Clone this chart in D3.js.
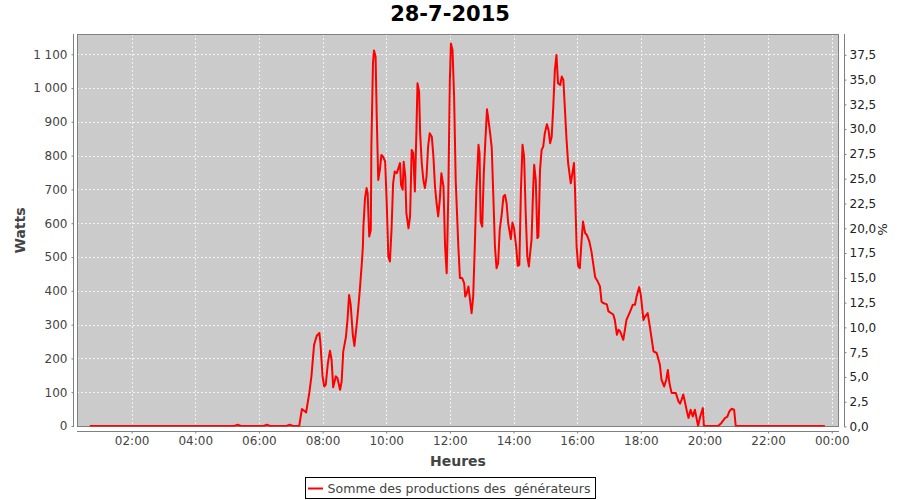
<!DOCTYPE html>
<html><head><meta charset="utf-8">
<script src="https://cdn.jsdelivr.net/npm/d3@7"></script>
<style>body{margin:0;background:#fff}svg{display:block}</style>
</head><body><svg id="c" width="900" height="500"></svg>
<script>
const chartTitle = "28-7-2015";
const xLabel = "Heures";
const yLabel = "Watts";
const y2Label = "%";
const seriesName = "Somme des productions des  générateurs";

const times = ["00:41","05:14","05:20","05:26","06:09","06:15","06:21","06:52","06:58","07:04","07:16",
"07:21","07:27","07:29","07:35","07:39","07:44","07:49","07:54","07:56","08:00","08:03","08:06","08:10","08:14","08:17","08:20","08:25","08:28","08:33","08:36","08:39","08:44","08:47","08:50","08:53","08:57",
"09:00","09:04","09:07","09:10","09:14","09:16","09:17","09:20","09:23","09:25","09:28","09:31","09:32","09:35","09:37","09:40","09:42","09:45","09:48","09:51","09:54","09:58",
"10:01","10:04","10:07","10:10","10:13","10:16","10:20","10:23","10:26","10:28","10:31","10:33","10:36","10:38","10:42","10:45","10:48","10:51","10:54","10:57","10:59",
"11:02","11:04","11:07","11:10","11:13","11:16","11:19","11:22","11:26","11:29","11:32","11:35","11:38","11:41","11:44","11:48","11:51","11:54","11:57",
"12:00","12:02","12:05","12:08","12:11","12:16","12:19","12:23","12:27","12:29","12:32","12:35","12:38","12:41","12:44","12:47","12:50","12:54","12:56","12:58",
"13:01","13:04","13:07","13:10","13:12","13:16","13:19","13:22","13:25","13:28","13:31","13:34","13:38","13:41","13:44","13:47","13:50","13:55","13:58",
"14:01","14:05","14:08","14:11","14:14","14:17","14:20","14:23","14:26","14:29","14:31","14:34","14:37","14:39","14:42","14:45","14:47","14:50","14:53","14:56","14:59",
"15:03","15:06","15:09","15:12","15:15","15:18","15:21","15:24","15:28","15:31","15:34","15:37","15:40","15:43","15:48","15:51","15:54","15:56","15:59",
"16:02","16:05","16:08","16:11","16:15","16:18","16:23","16:27","16:34","16:38","16:43","16:46","16:49","16:56","16:59",
"17:02","17:08","17:11","17:15","17:18","17:21","17:27","17:33","17:40","17:45","17:49","17:52","17:57",
"18:00","18:05","18:08","18:13","18:17","18:24","18:30","18:36","18:39","18:44","18:48","18:51","18:54","18:58",
"19:06","19:11","19:14","19:17","19:20","19:23","19:27","19:30","19:34","19:38","19:42","19:45","19:48","19:52","19:57","19:59",
"20:26","20:32","20:39","20:43","20:47","20:51","20:56","20:59","23:47"];

const watts = [0,0,4,0,0,4,0,0,4,0,0,
50,43,40,98,147,240,267,275,245,147,117,122,186,223,196,115,147,142,107,132,221,263,314,388,359,270,
237,295,344,398,482,530,590,674,704,689,561,580,827,1073,1111,1093,925,728,758,802,797,782,
659,501,487,580,718,753,748,763,778,713,699,782,738,630,585,620,817,807,694,876,1014,
989,866,778,728,704,738,827,866,856,797,708,659,620,669,748,708,531,452,679,
1024,1132,1113,975,728,531,438,438,423,383,393,413,373,334,383,531,699,832,807,605,
590,748,847,937,915,866,822,679,531,467,482,580,630,679,684,659,600,553,602,
585,531,474,477,699,832,797,630,501,472,506,551,699,773,728,556,561,758,817,827,866,
893,876,837,856,945,1054,1098,1014,1009,1034,1024,935,847,778,718,748,778,699,531,
472,467,541,605,571,566,546,516,440,430,413,368,364,360,339,
336,330,314,270,285,280,255,314,339,359,359,383,411,
388,314,324,334,295,221,216,181,137,117,137,166,127,98,
98,73,66,78,93,73,43,24,48,28,48,24,0,28,53,0,
0,9,24,27,43,51,48,0,0];

const hourTicks = ["02:00","04:00","06:00","08:00","10:00","12:00","14:00","16:00","18:00","20:00","22:00","00:00"];
const wattTicks = [0,100,200,300,400,500,600,700,800,900,1000,1100];
const pctTicks = [0,2.5,5,7.5,10,12.5,15,17.5,20,22.5,25,27.5,30,32.5,35,37.5];

const toMin = s => { const [h,m] = s.split(":").map(Number); return h*60+m; };
let prev = -1;
const tickMins = hourTicks.map(s => { let v = toMin(s); if (v < prev) v += 1440; prev = v; return v; });

const L = 77, R = 839, T = 34, B = 427;
const FONT = "DejaVu Sans, sans-serif";

const svg = d3.select("#c");
const x = d3.scaleLinear().domain([17, 1453.7]).range([L, R]);
const y = d3.scaleLinear().domain([0, 1160]).range([426, T]);
const y2 = d3.scaleLinear().domain([0, 39.6]).range([426.5, T]);

svg.append("rect").attr("x", L).attr("y", T).attr("width", R-L).attr("height", B-T)
  .attr("fill", "#cbcbcb");

const grid = svg.append("g");
grid.selectAll(".gx").data(tickMins).join("line")
  .attr("x1", d => Math.round(x(d))+0.5).attr("x2", d => Math.round(x(d))+0.5)
  .attr("y1", T).attr("y2", B)
  .attr("stroke", "#f4f4f4").attr("stroke-width", 1).attr("stroke-dasharray", "2,2");
grid.selectAll(".gy").data(wattTicks.filter(d => d > 0)).join("line")
  .attr("y1", d => Math.round(y(d))+0.5).attr("y2", d => Math.round(y(d))+0.5)
  .attr("x1", L).attr("x2", R)
  .attr("stroke", "#f4f4f4").attr("stroke-width", 1).attr("stroke-dasharray", "2,2");

// plot border
svg.append("rect").attr("x", L+0.5).attr("y", T+0.5).attr("width", R-L-1).attr("height", B-T-1)
  .attr("fill", "none").attr("stroke", "#808080").attr("stroke-width", 1);

svg.append("clipPath").attr("id", "clip").append("rect")
  .attr("x", L).attr("y", T).attr("width", R-L).attr("height", B-T-0.5);

const pts = times.map((t, i) => [toMin(t), watts[i]]);
const line = d3.line().x(d => x(d[0])).y(d => y(d[1]));
svg.append("path").attr("clip-path", "url(#clip)")
  .attr("d", line(pts)).attr("fill", "none")
  .attr("stroke", "#ff0000").attr("stroke-width", 2).attr("stroke-linejoin", "round");

const axColor = "#808080", txtColor = "#444444";
const gL = svg.append("g").attr("transform", `translate(73.5,0)`)
  .call(d3.axisLeft(y).tickValues(wattTicks).tickSize(2).tickPadding(4)
    .tickFormat(d => d3.format(",")(d).replace(",", "\u00a0")));
const gR = svg.append("g").attr("transform", `translate(844.5,0)`)
  .call(d3.axisRight(y2).tickValues(pctTicks).tickSize(2).tickPadding(3)
    .tickFormat(d => d3.format(".1f")(d).replace(".", ",")));
const gB = svg.append("g").attr("transform", `translate(0,431.5)`)
  .call(d3.axisBottom(x).tickValues(tickMins).tickSize(2).tickPadding(3)
    .tickFormat((d, i) => hourTicks[i]));
[gL, gR, gB].forEach(g => {
  g.select(".domain").remove();
  g.selectAll(".tick line").attr("stroke", axColor);
  g.selectAll("text").attr("fill", txtColor).style("font-family", FONT).style("font-size", "12px");
});
gR.selectAll("text").attr("fill", "#222");
svg.append("line").attr("x1", 73.5).attr("x2", 73.5).attr("y1", T).attr("y2", B).attr("stroke", axColor);
svg.append("line").attr("x1", 844.5).attr("x2", 844.5).attr("y1", T).attr("y2", B).attr("stroke", axColor);
svg.append("line").attr("x1", L).attr("x2", R).attr("y1", 431.5).attr("y2", 431.5).attr("stroke", axColor);

svg.append("text").attr("x", 450).attr("y", 20.5).attr("text-anchor", "middle")
  .style("font-family", FONT).style("font-weight", "bold").style("font-size", "21px")
  .attr("fill", "#000").text(chartTitle);

svg.append("text").attr("x", 458).attr("y", 465.5).attr("text-anchor", "middle")
  .style("font-family", FONT).style("font-weight", "bold").style("font-size", "14px")
  .attr("fill", txtColor).text(xLabel);
svg.append("text").attr("transform", "translate(25,230.5) rotate(-90)").attr("text-anchor", "middle")
  .style("font-family", FONT).style("font-weight", "bold").style("font-size", "14px")
  .attr("fill", txtColor).text(yLabel);
svg.append("text").attr("transform", "translate(878,229.5) rotate(90)").attr("text-anchor", "middle")
  .style("font-family", FONT).style("font-size", "13px")
  .attr("fill", "#222").text(y2Label);

const lg = svg.append("g");
lg.append("rect").attr("x", 305.5).attr("y", 477.5).attr("width", 290).attr("height", 21)
  .attr("fill", "#fff").attr("stroke", "#000").attr("stroke-width", 1);
lg.append("line").attr("x1", 308).attr("x2", 323).attr("y1", 488.5).attr("y2", 488.5)
  .attr("stroke", "#ff0000").attr("stroke-width", 2);
lg.append("text").attr("x", 327.5).attr("y", 493).style("font-family", FONT).style("font-size", "13px")
  .style("white-space", "pre").attr("xml:space", "preserve")
  .attr("textLength", 263).attr("lengthAdjust", "spacingAndGlyphs")
  .attr("fill", txtColor).text(seriesName);
</script>
</body></html>
